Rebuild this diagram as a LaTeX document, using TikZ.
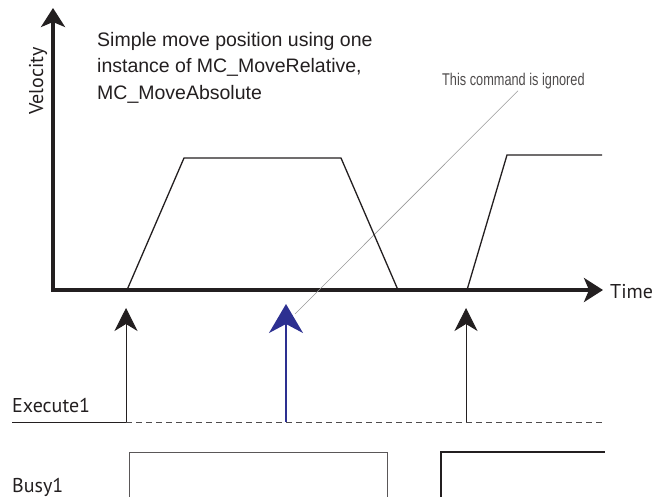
\documentclass[tikz,border=0pt]{standalone}
\usepackage{fontspec}
\setmainfont{PT Sans}
\newfontfamily\condfont{Liberation Sans}
\newfontfamily\narrowfont{Liberation Sans}[FakeStretch=0.75]
\usetikzlibrary{arrows.meta,positioning,calc}
\definecolor{inkblk}{RGB}{35,31,32}
\definecolor{cmdblue}{RGB}{45,48,145}
\tikzset{
  axisarr/.style={{Stealth[length=19pt,width=24pt,inset=5pt]}-{Stealth[length=19pt,width=24pt,inset=5pt]},
                  draw=inkblk, line width=4pt},
  profline/.style={draw=inkblk, line width=1.3pt},
  trigarr/.style={-{Stealth[length=23pt,width=23pt,inset=7pt]}, draw=inkblk, line width=1pt},
  cmdarr/.style={-{Stealth[length=29pt,width=34pt,inset=9pt]}, draw=cmdblue, line width=1.6pt},
  leadline/.style={draw=gray!80, line width=0.6pt},
  sigline/.style={draw=inkblk, line width=1pt},
  sigdash/.style={draw=inkblk!80, line width=1pt, dash pattern=on 6pt off 4pt},
  busythin/.style={draw=inkblk!75, line width=1pt},
  busythick/.style={draw=inkblk, line width=1.6pt},
  sigtext/.style={font=\fontsize{20}{24}\selectfont, text=inkblk, inner sep=0pt},
  titletext/.style={font=\condfont\fontsize{19.5}{26.5}\selectfont, text=inkblk, align=left, inner sep=0pt},
  notetext/.style={font=\narrowfont\fontsize{17}{20}\selectfont, text=inkblk!80, inner sep=0pt},
}
\begin{document}
\begin{tikzpicture}[x=1pt,y=-1pt]
\useasboundingbox (0,0) rectangle (652,497);
% axes
\coordinate (origin) at (53,290);
\coordinate (vtip) at (53,8);
\coordinate (htip) at (603,290);
\draw[axisarr] (vtip) -- (origin) -- (htip);
\node[sigtext, rotate=90, anchor=base] (velo) at (43,81) {Velocity};
\node[sigtext, anchor=base west] (time) at (610,298) {Time};
\node[titletext, anchor=north west] (title) at (97,32)
  {Simple move position using one\\instance of MC\_MoveRelative,\\MC\_MoveAbsolute};
\node[notetext, anchor=base west] (ignored) at (442,86) {This command is ignored};
% leader to the ignored command
\coordinate (leadend) at (295,314);
\draw[leadline] ($(ignored.south west)+(76,1)$) -- (leadend);
% velocity profile
\draw[profline] (127,290) -- (184,158) -- (341,158) -- (398,290);
\draw[profline] (467,290) -- (507,155) -- (602,155);
% Execute1
\coordinate (ex0) at (12,422);
\coordinate (exA) at (126,422);
\coordinate (exB) at (286,422);
\coordinate (exC) at (466,422);
\coordinate (exEnd) at (602,422);
\coordinate (tipA) at (126,308);
\coordinate (tipB) at (286,304);
\coordinate (tipC) at (466,308);
\node[sigtext, anchor=base west] (exlab) at (12,412) {Execute1};
\draw[sigline] (ex0) -- (exA);
\draw[sigdash] (exA) -- (exEnd);
\draw[trigarr] (exA) -- (tipA);
\draw[cmdarr] (exB) -- (tipB);
\draw[trigarr] (exC) -- (tipC);
% Busy1
\node[sigtext, anchor=base west] (busylab) at (12,492) {Busy1};
\draw[busythin] (129,497) |- (387,452) -- (387,497);
\draw[busythick] (441,497) |- (605,452);
\end{tikzpicture}
\end{document}
